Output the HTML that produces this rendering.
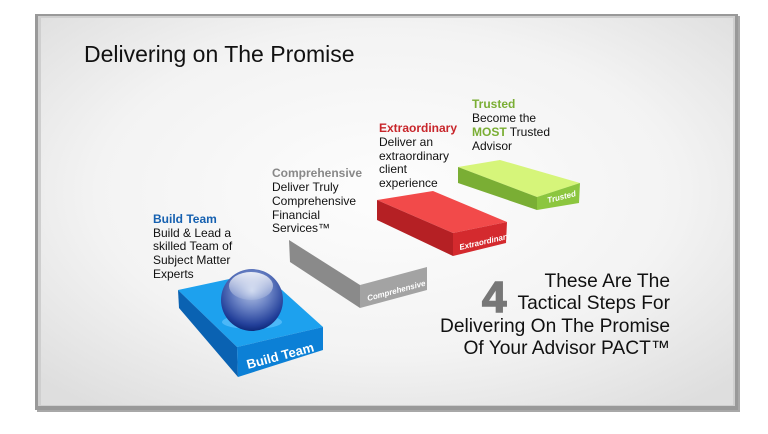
<!DOCTYPE html>
<html><head><meta charset="utf-8"><style>
html,body{margin:0;padding:0;background:#fff;}
svg{display:block;}
text{font-family:"Liberation Sans",Arial,sans-serif;}
</style></head><body>
<svg width="768" height="434" viewBox="0 0 768 434" xmlns="http://www.w3.org/2000/svg">
<defs>
<radialGradient id="bg" cx="0.5" cy="0.45" r="0.7">
<stop offset="0" stop-color="#fdfdfd"/><stop offset="0.6" stop-color="#f3f3f3"/><stop offset="1" stop-color="#dedede"/>
</radialGradient>
<radialGradient id="sph" cx="0.5" cy="0.35" r="0.65">
<stop offset="0" stop-color="#b9c8e8"/><stop offset="0.45" stop-color="#6a82c4"/><stop offset="0.85" stop-color="#23409a"/><stop offset="1" stop-color="#0f2a7a"/>
</radialGradient>
<linearGradient id="hl" x1="0" y1="0" x2="0" y2="1">
<stop offset="0" stop-color="#fff" stop-opacity="0.85"/><stop offset="1" stop-color="#fff" stop-opacity="0.1"/>
</linearGradient>
</defs>
<rect x="37" y="16" width="703" height="396" fill="#a8a8a8"/>
<rect x="35" y="14" width="703" height="396" fill="#999"/>
<rect x="38" y="16" width="697" height="390" fill="#cfcfcf"/>
<rect x="41" y="18" width="692" height="387" fill="url(#bg)"/>

<text x="84" y="62" font-size="23" fill="#111">Delivering on The Promise</text>

<!-- Green block -->
<polygon points="458,167 500,160 580,183 537,197" fill="#d6f57a"/>
<polygon points="458,167 537,197 537,210 458,183" fill="#7aae34"/>
<polygon points="537,197 580,183 579,203 537,210" fill="#8cc63f"/>
<text x="0" y="0" font-size="8" font-style="italic" font-weight="bold" fill="#fff" transform="translate(548,203) rotate(-14)">Trusted</text>

<!-- Red block -->
<polygon points="377,200 433,191 507,222 453,233" fill="#f24a4a"/>
<polygon points="377,200 453,233 453,256 377,220" fill="#b52024"/>
<polygon points="453,233 507,222 506,243 453,256" fill="#d42a2e"/>
<text x="0" y="0" font-size="8" font-style="italic" font-weight="bold" fill="#fff" transform="translate(460,250) rotate(-13)">Extraordinary</text>

<!-- Gray block -->
<polygon points="289,240 360,285 360,308 290,262" fill="#8a8a8a"/>
<polygon points="360,285 427,267 427,290 360,308" fill="#a3a3a3"/>
<text x="0" y="0" font-size="8" font-style="italic" font-weight="bold" fill="#fff" transform="translate(368,301) rotate(-15)">Comprehensive</text>

<!-- Blue block -->
<polygon points="178,290 262,272 323,327 237,347" fill="#1da1ee"/>
<polygon points="178,290 237,347 238,377 179,308" fill="#0a62b2"/>
<polygon points="237,347 323,327 323,350 238,377" fill="#0c80d6"/>
<text x="0" y="0" font-size="13" font-weight="bold" fill="#fff" transform="translate(248,369) rotate(-15)">Build Team</text>
<ellipse cx="252" cy="322" rx="30" ry="7" fill="#6cc8ff" opacity="0.6"/>
<circle cx="252" cy="300" r="31" fill="url(#sph)"/>
<ellipse cx="251" cy="286" rx="22" ry="14" fill="url(#hl)"/>

<!-- Labels -->
<g font-size="12" fill="#111">
<text x="153" y="223" font-weight="bold" fill="#1560b0">Build Team</text>
<text x="153" y="237">Build &amp; Lead a</text>
<text x="153" y="250">skilled Team of</text>
<text x="153" y="264">Subject Matter</text>
<text x="153" y="278">Experts</text>

<text x="272" y="177" font-weight="bold" fill="#888">Comprehensive</text>
<text x="272" y="191">Deliver Truly</text>
<text x="272" y="205">Comprehensive</text>
<text x="272" y="219">Financial</text>
<text x="272" y="232">Services™</text>

<text x="379" y="132" font-weight="bold" fill="#c8262b">Extraordinary</text>
<text x="379" y="146">Deliver an</text>
<text x="379" y="160">extraordinary</text>
<text x="379" y="173">client</text>
<text x="379" y="187">experience</text>

<text x="472" y="108" font-weight="bold" fill="#7aae34">Trusted</text>
<text x="472" y="122">Become the</text>
<text x="472" y="136"><tspan font-weight="bold" fill="#7aae34">MOST</tspan> Trusted</text>
<text x="472" y="150">Advisor</text>
</g>

<text x="482" y="312" font-size="44" font-weight="bold" fill="#777" stroke="#777" stroke-width="1.5">4</text>
<g font-size="19.2" fill="#111" text-anchor="end">
<text x="670" y="287">These Are The</text>
<text x="670" y="309">Tactical Steps For</text>
<text x="670" y="332">Delivering On The Promise</text>
<text x="670" y="354">Of Your Advisor PACT™</text>
</g>
</svg>
</body></html>
